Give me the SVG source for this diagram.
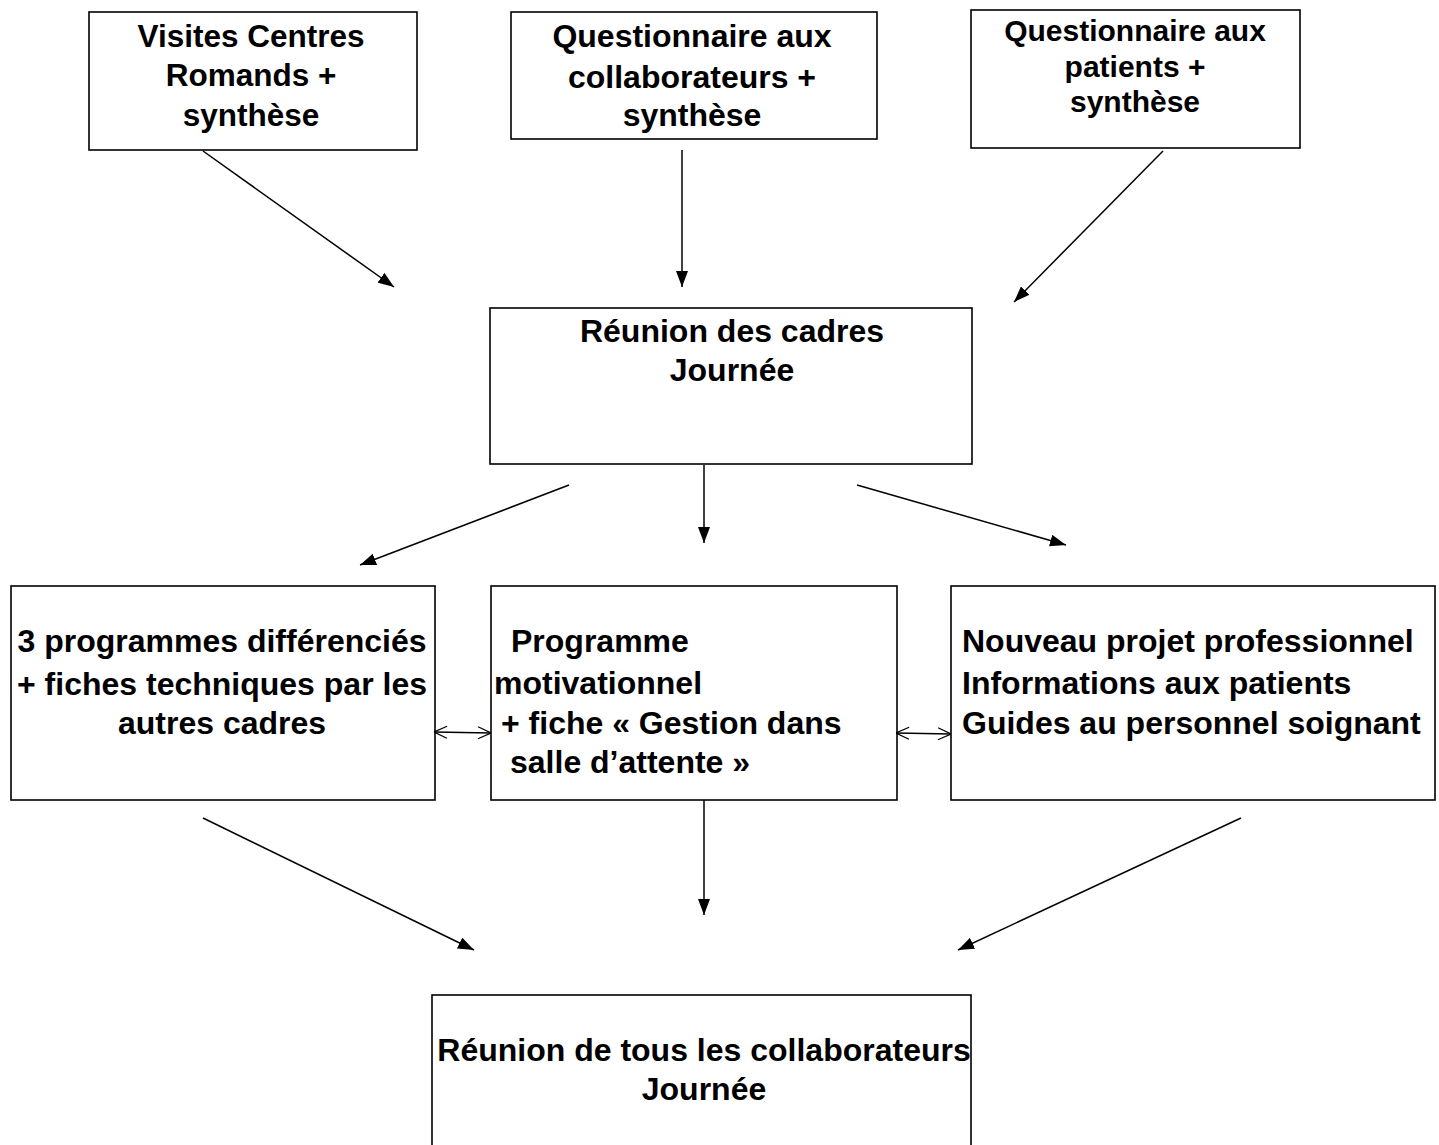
<svg xmlns="http://www.w3.org/2000/svg" width="1439" height="1145" viewBox="0 0 1439 1145">
<style>
.box{fill:#fff;stroke:#000;stroke-width:1.6}
.t{font-family:"Liberation Sans",Arial,sans-serif;font-weight:bold;font-size:32px;fill:#000}
.c{text-anchor:middle}
.s{font-size:30px}
.m{font-size:31.5px}
.ln{stroke:#000;stroke-width:1.5;fill:none}
</style>
<defs>
<marker id="ah" viewBox="0 0 16 12" refX="16" refY="6" markerWidth="16" markerHeight="12" markerUnits="userSpaceOnUse" orient="auto">
<path d="M0,0 L16,6 L0,12 Z" fill="#000"/>
</marker>
<marker id="oh" viewBox="0 0 14 14" refX="14" refY="7" markerWidth="14" markerHeight="14" markerUnits="userSpaceOnUse" orient="auto-start-reverse">
<path d="M1,1 L14,7 L1,13" fill="none" stroke="#000" stroke-width="1.3"/>
</marker>
</defs>
<rect width="1439" height="1145" fill="#fff"/>
<g id="n1"><rect class="box" x="89" y="12" width="328" height="138"/>
<text class="t c m" x="251" y="47">Visites Centres</text>
<text class="t c m" x="251" y="86">Romands +</text>
<text class="t c m" x="251" y="126">synthèse</text></g>
<g id="n2"><rect class="box" x="511" y="12" width="366" height="127"/>
<text class="t c" x="692" y="47">Questionnaire aux</text>
<text class="t c" x="692" y="88">collaborateurs +</text>
<text class="t c" x="692" y="126">synthèse</text></g>
<g id="n3"><rect class="box" x="971" y="10" width="329" height="138"/>
<text class="t c s" x="1135" y="41">Questionnaire aux</text>
<text class="t c s" x="1135" y="77">patients +</text>
<text class="t c s" x="1135" y="112">synthèse</text></g>
<g id="n4"><rect class="box" x="490" y="308" width="482" height="156"/>
<text class="t c" x="732" y="342">Réunion des cadres</text>
<text class="t c" x="732" y="381">Journée</text></g>
<g id="n5"><rect class="box" x="11" y="586" width="424" height="214"/>
<text class="t c" x="222" y="652">3 programmes différenciés</text>
<text class="t c" x="222" y="695">+ fiches techniques par les</text>
<text class="t c" x="222" y="734">autres cadres</text></g>
<g id="n6"><rect class="box" x="491" y="586" width="406" height="214"/>
<text class="t" x="511" y="652">Programme</text>
<text class="t" x="494" y="694">motivationnel</text>
<text class="t" x="501" y="734">+ fiche « Gestion dans</text>
<text class="t" x="510" y="773">salle d’attente »</text></g>
<g id="n7"><rect class="box" x="951" y="586" width="484" height="214"/>
<text class="t" x="962" y="652">Nouveau projet professionnel</text>
<text class="t" x="962" y="694">Informations aux patients</text>
<text class="t" x="962" y="734">Guides au personnel soignant</text></g>
<g id="n8"><rect class="box" x="432" y="995" width="539" height="170"/>
<text class="t c" x="704" y="1061">Réunion de tous les collaborateurs</text>
<text class="t c" x="704" y="1100">Journée</text></g>
<g id="connectors">
<line class="ln" x1="203" y1="151" x2="394" y2="287" marker-end="url(#ah)"/>
<line class="ln" x1="682" y1="150" x2="682" y2="287" marker-end="url(#ah)"/>
<line class="ln" x1="1163" y1="151" x2="1014" y2="302" marker-end="url(#ah)"/>
<line class="ln" x1="569" y1="485" x2="360" y2="565" marker-end="url(#ah)"/>
<line class="ln" x1="704" y1="465" x2="704" y2="543" marker-end="url(#ah)"/>
<line class="ln" x1="857" y1="485" x2="1066" y2="545" marker-end="url(#ah)"/>
<line class="ln" x1="434" y1="732" x2="491" y2="733" marker-start="url(#oh)" marker-end="url(#oh)"/>
<line class="ln" x1="896" y1="733" x2="951" y2="734" marker-start="url(#oh)" marker-end="url(#oh)"/>
<line class="ln" x1="203" y1="818" x2="474" y2="950" marker-end="url(#ah)"/>
<line class="ln" x1="704" y1="800" x2="704" y2="915" marker-end="url(#ah)"/>
<line class="ln" x1="1241" y1="818" x2="958" y2="950" marker-end="url(#ah)"/>
</g>
</svg>
